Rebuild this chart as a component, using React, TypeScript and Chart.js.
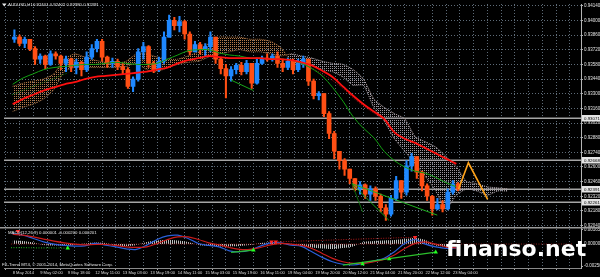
import React, { useEffect, useRef } from "react";
import { Chart, registerables } from "chart.js";
Chart.register(...registerables);

// ---------- data ----------
const headerSymbol = "AUDUSD,H1";
const headerQuote = "0.92401 0.92402 0.92380 0.92391";
const macdTitle = "MACD(12,26,9) 0.000001 -0.000200 0.000201";
const copyright = "FX-Trend MT4, \u00a9 2001-2014, MetaQuotes Software Corp.";
const watermark = "finanso.net";

const timeLabels = [
  "8 May 2014", "9 May 02:00", "9 May 18:00", "12 May 11:00", "13 May 03:00", "13 May 19:00",
  "14 May 11:00", "15 May 03:00", "15 May 19:00", "16 May 11:00", "19 May 04:00", "19 May 20:00",
  "20 May 12:00", "21 May 04:00", "21 May 20:00", "22 May 12:00", "23 May 04:00",
];
const priceTicks = [0.9204, 0.9218, 0.9232, 0.9246, 0.926, 0.9274, 0.9288, 0.9302, 0.9316, 0.933, 0.9344, 0.9358, 0.9372, 0.9386, 0.94, 0.9414];
const macdTicks = [-0.002508, 0, 0.001652];
const levelPrices = [0.93071, 0.92668, 0.92391, 0.92261];

const candleOpen0 = 0.9382;
const candleClose = [
  0.9384, 0.9378, 0.9382, 0.9373, 0.9363, 0.9366, 0.9358, 0.9368, 0.9366, 0.9359,
  0.9363, 0.9355, 0.936, 0.9353, 0.9365, 0.9373, 0.938, 0.9365, 0.9359, 0.9361,
  0.9356, 0.9353, 0.9337, 0.9344, 0.937, 0.9375, 0.9359, 0.9353, 0.9361, 0.9384,
  0.94, 0.9395, 0.9399, 0.9387, 0.937, 0.9377, 0.9372, 0.9375, 0.9384, 0.9363,
  0.9354, 0.9347, 0.9353, 0.9357, 0.9351, 0.9359, 0.934, 0.9359, 0.9364, 0.9363,
  0.9366, 0.9359, 0.9355, 0.9361, 0.9353, 0.9359, 0.9363, 0.9342, 0.9328, 0.933,
  0.9311, 0.9292, 0.9275, 0.9266, 0.9258, 0.9249, 0.9239, 0.9243, 0.9234, 0.9239,
  0.9232, 0.9221, 0.9215, 0.923, 0.9247, 0.9236, 0.9261, 0.927, 0.9255, 0.9242,
  0.9232, 0.922, 0.9224, 0.922, 0.9236, 0.9244, 0.92391,
];
const candleHigh = [
  0.9391, 0.9386, 0.9384, 0.9382, 0.9375, 0.9368, 0.9367, 0.9371, 0.937, 0.9367,
  0.9366, 0.9364, 0.9363, 0.9361, 0.937, 0.9377, 0.9382, 0.9382, 0.9366, 0.9364,
  0.9363, 0.9359, 0.9355, 0.9346, 0.9373, 0.9379, 0.9376, 0.9361, 0.9365, 0.9389,
  0.9405, 0.9403, 0.9404, 0.94, 0.9389, 0.938, 0.9379, 0.9378, 0.9389, 0.9384,
  0.9365, 0.9358, 0.9356, 0.9359, 0.936, 0.9362, 0.9359, 0.9364, 0.9366, 0.9368,
  0.9368, 0.937, 0.9363, 0.9364, 0.9363, 0.9363, 0.9366, 0.9363, 0.9344, 0.9332,
  0.933, 0.9313, 0.9294, 0.9275, 0.9268, 0.9258, 0.9249, 0.9246, 0.9244, 0.9242,
  0.9241, 0.9234, 0.9224, 0.9233, 0.9251, 0.9247, 0.9266, 0.9273, 0.927, 0.9256,
  0.9244, 0.9233, 0.923, 0.9228, 0.9239, 0.9247, 0.9245,
];
const candleLow = [
  0.9379, 0.9376, 0.9374, 0.9371, 0.9358, 0.9359, 0.9354, 0.9357, 0.9363, 0.9353,
  0.9351, 0.9351, 0.9349, 0.9347, 0.9351, 0.9363, 0.937, 0.9361, 0.9355, 0.9355,
  0.9353, 0.9349, 0.9335, 0.9332, 0.9342, 0.9363, 0.9355, 0.935, 0.9351, 0.9359,
  0.9384, 0.9391, 0.9389, 0.9382, 0.9367, 0.937, 0.9368, 0.9366, 0.937, 0.9359,
  0.9349, 0.9326, 0.9342, 0.9349, 0.9348, 0.9349, 0.9335, 0.9339, 0.9358, 0.9361,
  0.9361, 0.9355, 0.9351, 0.9353, 0.9349, 0.9351, 0.9355, 0.9338, 0.9325, 0.9324,
  0.9308, 0.9287, 0.9268, 0.9258, 0.9252, 0.9244, 0.9237, 0.9234, 0.923, 0.9228,
  0.9228, 0.9217, 0.9209, 0.9213, 0.9228, 0.923, 0.9233, 0.9256, 0.9249, 0.9237,
  0.9228, 0.9214, 0.9219, 0.9217, 0.9219, 0.9234, 0.9237,
];

// Ichimoku cloud, one value every 6 hours
const cloudSpanA = [
  0.9337, 0.934, 0.9342, 0.9344, 0.9349, 0.9363, 0.9368, 0.9365, 0.9362, 0.936,
  0.9359, 0.9361, 0.9368, 0.9368, 0.9365, 0.9363, 0.9363, 0.9366, 0.937, 0.9378,
  0.9384, 0.9384, 0.9384, 0.9382, 0.9382, 0.938, 0.9374, 0.9361, 0.9359, 0.9357,
  0.9353, 0.9351, 0.9346, 0.9338, 0.9338, 0.9317, 0.9304, 0.9287, 0.9275, 0.9263,
  0.9251, 0.9237, 0.922, 0.9233, 0.9239, 0.9237, 0.9233, 0.9237, 0.9237,
];
const cloudSpanB = [
  0.9313, 0.9317, 0.932, 0.9325, 0.9334, 0.9351, 0.9355, 0.9355, 0.9355, 0.9355,
  0.9355, 0.9356, 0.9359, 0.9353, 0.9351, 0.9355, 0.9358, 0.936, 0.9361, 0.9365,
  0.9368, 0.937, 0.9372, 0.937, 0.937, 0.9368, 0.9366, 0.9368, 0.9366, 0.9364,
  0.9361, 0.9359, 0.9358, 0.9353, 0.9344, 0.9325, 0.9317, 0.9311, 0.9306, 0.9289,
  0.9284, 0.9279, 0.927, 0.926, 0.9246, 0.9244, 0.9241, 0.924, 0.9239,
];

// moving averages, one value every 6 hours
const maRed = [
  0.932, 0.9325, 0.9329, 0.9333, 0.9336, 0.9339, 0.9341, 0.9344, 0.9346, 0.9347,
  0.9348, 0.9349, 0.935, 0.9351, 0.9353, 0.9355, 0.9359, 0.9362, 0.9364, 0.9366,
  0.9365, 0.9364, 0.9364, 0.9364, 0.9364, 0.9363, 0.9363, 0.9362, 0.936, 0.9357,
  0.9352, 0.9346, 0.9337, 0.9328, 0.932, 0.9313, 0.9306, 0.9293, 0.9287, 0.9283,
  0.9278, 0.9273, 0.9268, 0.9263,
];
const maGreen = [
  0.9339, 0.9345, 0.9349, 0.9353, 0.9355, 0.9356, 0.9357, 0.9358, 0.9358, 0.9359,
  0.936, 0.9359, 0.9358, 0.9358, 0.9359, 0.9363, 0.9367, 0.9371, 0.9372, 0.9372,
  0.9369, 0.9367, 0.9366, 0.9364, 0.9364, 0.9363, 0.9363, 0.9362, 0.9359, 0.9354,
  0.9347, 0.9336, 0.9323, 0.9308, 0.9297, 0.9288, 0.9275, 0.9266, 0.926, 0.9256,
  0.9254, 0.925, 0.9245, 0.9241,
];
const kijunHours = [171, 181, 190.6, 200.2, 210.3, 218.8];
const kijunPrices = [0.9357, 0.9348, 0.9337, 0.9323, 0.9311, 0.9303];

const trendHours = [[-0.4, 32.3], [127, 140], [197.3, 203.5], [197.3, 218.8], [197.3, 246.9]];
const trendPrices = [[0.9329, 0.935], [0.9343, 0.9333], [0.9244, 0.9217], [0.9244, 0.9209], [0.9244, 0.9214]];
const zigzagHours = [259.3, 265, 276.2];
const zigzagPrices = [0.9239, 0.9264, 0.9229];

// MACD, one value every 6 hours
const macdMain = [
  0.0012, 0.00101, 0.00064, 0.00025, -0.00001, -0.00016, -0.00024, -0.0002, 0.00007, -0.00012,
  -0.00032, -0.00054, -0.00061, -0.00012, 0.00052, 0.00093, 0.00101, 0.00064, 0.00007, -0.00016,
  -0.00032, -0.00077, -0.00088, -0.00069, -0.00024, 0.00014, 0.00014, -0.00012, -0.00027, -0.00088,
  -0.00152, -0.00202, -0.00231, -0.00239, -0.0022, -0.00191, -0.00163, -0.00088, 0.00007, 0.00052,
  -0.00001, -0.00032, -0.0005, -0.00043,
];
const macdSignal = [
  0.00112, 0.00101, 0.00082, 0.00056, 0.00033, 0.00014, -0.00001, -0.00009, -0.00005, -0.00005,
  -0.00016, -0.00032, -0.00039, -0.00032, 0.00007, 0.00052, 0.00082, 0.00082, 0.00052, 0.00014,
  -0.00009, -0.00039, -0.00061, -0.00061, -0.00039, -0.00009, 0.00007, -0.00001, -0.00016, -0.0005,
  -0.00107, -0.00163, -0.00202, -0.0022, -0.0022, -0.00202, -0.00175, -0.00126, -0.0005, 0.00007,
  0.00025, -0.00001, -0.00032, -0.00043,
];
const macdHist = [
  0.0004, 0.00034, 0.00017, -0.00011, -0.00017, -0.00017, -0.00011, 0.00006, 0.00017, 0.00011,
  -0.00017, -0.00023, -0.00011, 0.00023, 0.0004, 0.00045, 0.0004, 0.00023, -0.00011, -0.00023,
  -0.00028, -0.00028, -0.00023, -0.00011, 0.00011, 0.00017, 0.00011, -0.00006, -0.00023, -0.0004,
  -0.00051, -0.00057, -0.00045, -0.00028, 0.00023, 0.00034, 0.0004, 0.00045, 0.00057, 0.00068,
  0.00045, -0.00017, -0.00028, -0.00023,
];
const upArrowHours = [32, 140, 203.5, 219, 246];
const upArrowValues = [-0.00046, -0.00069, -0.00228, -0.00171, -0.00092];
const downArrowHours = [3, 150.5, 153, 234];
const downArrowValues = [0.00146, 0.00025, 0.00025, 0.00078];
const macdTrendHours = [[-1, 32], [127, 140], [192, 246]];
const macdTrendValues = [[-0.0004, -0.00046], [-0.00095, -0.00069], [-0.0024, -0.00092]];
const macdRedTrendHours = [153, 234];
const macdRedTrendValues = [0.00025, 0.00078];

// ---------- component ----------
const FONT = '"Liberation Sans", Arial, sans-serif';
const UP = "#1e88ff";
const DOWN = "#ff4f14";

export default function App() {
  const canvasRef = useRef<HTMLCanvasElement | null>(null);

  useEffect(() => {
    document.body.style.margin = "0";
    document.body.style.background = "#000";
    const canvas = canvasRef.current;
    if (!canvas) return;

    const pattern = (w: number, h: number, color: string, pts: number[][]) => {
      const c = document.createElement("canvas");
      c.width = w;
      c.height = h;
      const g = c.getContext("2d")!;
      g.fillStyle = color;
      pts.forEach(([x, y]) => g.fillRect(x, y, 1, 1));
      return g.createPattern(c, "repeat")!;
    };
    const tanPat = pattern(2, 2, "#b27a4a", [[0, 0]]);
    const thistlePat = pattern(2, 2, "#9c959c", [[0, 0]]);
    const histPat = pattern(2, 1, "#bdbdbd", [[0, 0]]);

    const opens = candleClose.map((c, i) => (i === 0 ? candleOpen0 : candleClose[i - 1]));
    const colors = candleClose.map((c, i) => (c >= opens[i] ? UP : DOWN));
    const cHour = (i: number) => 3 * i + 1;
    const six = (arr: number[]) => arr.map((v, k) => ({ x: k * 6, y: v }));
    const pairs = (hs: number[], vs: number[]) => hs.map((h, i) => ({ x: h, y: vs[i] }));

    const base = { pointRadius: 0, pointHoverRadius: 0, borderWidth: 1 };

    const trendColors = ["#0b7a0b", "#1aa51a", "#0a6a0a", "#16a016", "#1fb01f"];
    const trendDatasets = trendHours.map((hs, i) => ({
      type: "line" as const,
      ...base,
      data: pairs(hs, trendPrices[i]),
      borderColor: trendColors[i],
      borderDash: i === 0 ? [1, 1.5] : [],
      yAxisID: "y",
      order: 1,
    }));
    const macdTrendDatasets = macdTrendHours.map((hs, i) => ({
      type: "line" as const,
      ...base,
      data: pairs(hs, macdTrendValues[i]),
      borderColor: i === 0 ? "#1a9a1a" : "#2cc02c",
      borderDash: i === 0 ? [1, 1.5] : [],
      borderWidth: 1.2,
      yAxisID: "y2",
      order: 1,
    }));

    const datasets: any[] = [
      {
        type: "line", ...base, data: pairs(zigzagHours, zigzagPrices),
        borderColor: "#ffa31a", borderWidth: 1.6, yAxisID: "y", order: 0,
      },
      ...trendDatasets,
      {
        type: "line", ...base, data: six(maRed), borderColor: "#ff1010", borderWidth: 1.8,
        tension: 0.35, yAxisID: "y", order: 2,
      },
      {
        type: "line", ...base, data: six(maGreen), borderColor: "#12a012", borderWidth: 1,
        tension: 0.35, yAxisID: "y", order: 2,
      },
      {
        type: "line", ...base, data: pairs(kijunHours, kijunPrices), borderColor: "#9a1010",
        borderDash: [1, 1.5], tension: 0.3, yAxisID: "y", order: 3,
      },
      {
        type: "bar", data: candleClose.map((c, i) => ({ x: cHour(i), y: [opens[i], c] })),
        backgroundColor: colors, borderWidth: 0, barThickness: 4, grouped: false, yAxisID: "y", order: 4,
      },
      {
        type: "bar", data: candleClose.map((c, i) => ({ x: cHour(i), y: [candleLow[i], candleHigh[i]] })),
        backgroundColor: colors, borderWidth: 0, barThickness: 1.4, grouped: false, yAxisID: "y", order: 5,
      },
      {
        type: "line", ...base, data: six(cloudSpanA),
        borderColor: "#b87c48", borderDash: [1, 1],
        segment: { borderColor: (ctx: any) => (ctx.p0DataIndex < 27 ? "#b87c48" : "#a8a0a8") },
        fill: { target: "+1", above: tanPat, below: thistlePat },
        tension: 0.2, yAxisID: "y", order: 8,
      },
      {
        type: "line", ...base, data: six(cloudSpanB),
        borderColor: "#b87c48", borderDash: [1, 1],
        segment: { borderColor: (ctx: any) => (ctx.p0DataIndex < 27 ? "#a06c40" : "#bdb4bd") },
        fill: false, tension: 0.2, yAxisID: "y", order: 9,
      },
      // MACD window
      {
        type: "line", ...base, data: six(macdHist), borderWidth: 0,
        fill: "origin", backgroundColor: histPat, tension: 0.3, yAxisID: "y2", order: 9,
      },
      {
        type: "line", ...base, data: [{ x: -1, y: 0 }, { x: 326, y: 0 }], borderColor: "#8c1a1a",
        borderDash: [1, 1.5], yAxisID: "y2", order: 8,
      },
      {
        type: "line", ...base, data: six(macdMain), borderColor: "#2a5fd8", borderWidth: 1.2,
        tension: 0.35, yAxisID: "y2", order: 3,
      },
      {
        type: "line", ...base, data: six(macdSignal), borderColor: "#c81c1c", borderWidth: 1.2,
        tension: 0.35, yAxisID: "y2", order: 2,
      },
      ...macdTrendDatasets,
      {
        type: "line", ...base, data: pairs(macdRedTrendHours, macdRedTrendValues), borderColor: "#b01818",
        borderDash: [1, 1.5], yAxisID: "y2", order: 1,
      },
      {
        type: "line", showLine: false, data: pairs(upArrowHours, upArrowValues),
        pointStyle: "triangle", pointRadius: 2.6, pointBackgroundColor: "#22ff22", pointBorderColor: "#22ff22",
        pointBorderWidth: 0, yAxisID: "y2", order: 0,
      },
      {
        type: "line", showLine: false, data: pairs(downArrowHours, downArrowValues),
        pointStyle: "triangle", pointRotation: 180, pointRadius: 2.6, pointBackgroundColor: "#ff2626",
        pointBorderColor: "#ff2626", pointBorderWidth: 0, yAxisID: "y2", order: 0,
      },
    ];

    const bgPlugin = {
      id: "bg",
      beforeDraw(c: any) {
        const ctx = c.ctx;
        ctx.save();
        ctx.fillStyle = "#000";
        ctx.fillRect(0, 0, c.width, c.height);
        ctx.restore();
      },
    };

    const levelsPlugin = {
      id: "levels",
      beforeDatasetsDraw(c: any) {
        const ctx = c.ctx;
        const ys = c.scales.y;
        const area = c.chartArea;
        ctx.save();
        ctx.strokeStyle = "#a4a4a4";
        ctx.lineWidth = 1.5;
        levelPrices.forEach((p) => {
          const py = Math.round(ys.getPixelForValue(p)) + 0.25;
          ctx.beginPath();
          ctx.moveTo(area.left, py);
          ctx.lineTo(area.right, py);
          ctx.stroke();
        });
        ctx.restore();
      },
      afterDraw(c: any) {
        const ctx = c.ctx;
        const ys = c.scales.y;
        const area = c.chartArea;
        ctx.save();
        // window separator
        ctx.fillStyle = "#9a9a9a";
        ctx.fillRect(0, Math.round(ys.bottom) - 1, 600, 1.5);
        levelPrices.forEach((p) => {
          const py = Math.round(ys.getPixelForValue(p));
          ctx.fillStyle = "#e4e4e4";
          ctx.fillRect(area.right + 1, py - 3, 19, 6.5);
          ctx.fillStyle = "#000";
          ctx.font = `4.4px ${FONT}`;
          ctx.textBaseline = "middle";
          ctx.textAlign = "left";
          ctx.fillText(p.toFixed(5), area.right + 3, py + 0.3);
        });
        // header
        ctx.fillStyle = "#e6e6e6";
        ctx.beginPath();
        ctx.moveTo(2, 3.5);
        ctx.lineTo(6.5, 3.5);
        ctx.lineTo(4.25, 6.5);
        ctx.closePath();
        ctx.fill();
        ctx.font = `4.3px ${FONT}`;
        ctx.textBaseline = "middle";
        ctx.textAlign = "left";
        ctx.fillText(headerSymbol, 8, 5.3);
        ctx.fillText(headerQuote, 33, 5.3);
        ctx.fillText(macdTitle, 8, 233);
        ctx.fillText(copyright, 2, 265);
        // watermark
        ctx.fillStyle = "#ffffff";
        ctx.font = `bold 22px "DejaVu Sans", sans-serif`;
        ctx.textBaseline = "alphabetic";
        ctx.fillText(watermark, 446, 256);
        ctx.restore();
      },
    };

    const yFont = { size: 4.5, family: FONT };
    const xFont = { size: 4.1, family: FONT };

    const chart = new Chart(canvas, {
      type: "line",
      data: { datasets },
      options: {
        animation: false,
        responsive: false,
        devicePixelRatio: 1,
        events: [],
        layout: { padding: { top: 2, left: 0, right: 0, bottom: 0 } },
        plugins: { legend: { display: false }, tooltip: { enabled: false } },
        scales: {
          x: {
            type: "linear",
            min: -0.96,
            max: 326.4,
            position: "bottom",
            afterBuildTicks: (s: any) => {
              const t = [];
              for (let h = 0; h <= 320; h += 8) t.push({ value: h });
              s.ticks = t;
            },
            afterFit: (s: any) => {
              s.height = 9;
              s.paddingLeft = 0;
              s.paddingRight = 0;
            },
            ticks: {
              callback: (v: any) => (v % 16 === 0 && timeLabels[v / 16] ? timeLabels[v / 16] : ""),
              color: "#dcdcdc",
              font: xFont,
              padding: 0.5,
              autoSkip: false,
              maxRotation: 0,
              align: "start",
            },
            grid: { color: "#5e6b78", tickColor: "#a8a8a8", tickLength: 2, lineWidth: 1 },
            border: { display: true, color: "#8a8a8a", dash: [1, 2] },
          },
          y: {
            type: "linear",
            position: "right",
            stack: "win",
            stackWeight: 226,
            min: 0.92014,
            max: 0.94157,
            afterBuildTicks: (s: any) => {
              s.ticks = priceTicks.map((v) => ({ value: v }));
            },
            afterFit: (s: any) => {
              s.width = 19;
              s.paddingTop = 0;
              s.paddingBottom = 0;
            },
            ticks: {
              callback: (v: any) => Number(v).toFixed(5),
              color: "#e0e0e0",
              font: yFont,
              padding: 1,
              autoSkip: false,
            },
            grid: { color: "#5e6b78", tickColor: "#b0b0b0", tickLength: 2, lineWidth: 1 },
            border: { display: true, color: "#b4b4b4", dash: [1, 2] },
          },
          y2: {
            type: "linear",
            position: "right",
            stack: "win",
            stackWeight: 40,
            min: -0.002735,
            max: 0.0018,
            afterBuildTicks: (s: any) => {
              s.ticks = macdTicks.map((v) => ({ value: v }));
            },
            afterFit: (s: any) => {
              s.width = 19;
              s.paddingTop = 0;
              s.paddingBottom = 0;
            },
            ticks: {
              callback: (v: any) => Number(v).toFixed(6),
              color: "#e0e0e0",
              font: yFont,
              padding: 1,
              autoSkip: false,
            },
            grid: { drawOnChartArea: false, tickColor: "#b0b0b0", tickLength: 2 },
            border: { display: true, color: "#b4b4b4" },
          },
        },
      } as any,
      plugins: [bgPlugin, levelsPlugin],
    });

    return () => chart.destroy();
  }, []);

  return (
    <div style={{ position: "absolute", left: 0, top: 0, width: 600, height: 277, background: "#000" }}>
      <canvas ref={canvasRef} width={600} height={277} style={{ display: "block", width: 600, height: 277 }} />
    </div>
  );
}
